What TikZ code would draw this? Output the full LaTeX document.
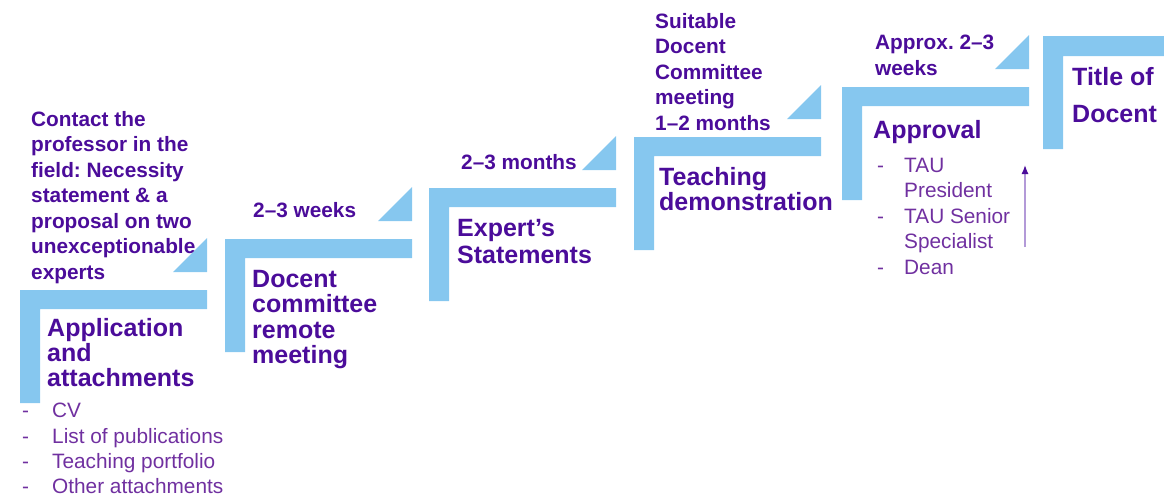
\documentclass[tikz,border=0pt]{standalone}
\usepackage{fontspec}
\setmainfont{Liberation Sans}
\usetikzlibrary{arrows.meta}
\frenchspacing

\definecolor{stepblue}{HTML}{86C7EF}
\definecolor{darkviolet}{HTML}{4B0C9A}
\definecolor{listviolet}{HTML}{7030A0}
\definecolor{lavender}{HTML}{B39AD8}

\tikzset{
  stepbar/.style={fill=stepblue, draw=none},
  steptitle/.style={anchor=north west, inner sep=0pt, align=left, text=darkviolet,
    font=\bfseries\fontsize{25}{25.3}\selectfont},
  stepnote/.style={anchor=north west, inner sep=0pt, align=left, text=darkviolet,
    font=\bfseries\fontsize{20.8}{25.5}\selectfont},
  steplist/.style={anchor=north west, inner sep=0pt, align=left, text=listviolet,
    font=\fontsize{20.8}{25.4}\selectfont},
}
\newcommand{\listdash}[1]{\makebox[#1][l]{-}}

\begin{document}
\begin{tikzpicture}[x=1pt, y=-1pt]
    \useasboundingbox (0,0) rectangle (1164,498);

    % Draw the stairs
    \foreach \sx/\sy in {20/290, 225/239, 429/188, 634/137, 842/87} {
        \fill[stepbar] (\sx,\sy) -- ++(187,0) -- ++(0,19) -- ++(-167,0) -- ++(0,94) -- ++(-20,0) -- cycle;
        \fill[stepbar] (\sx+153,\sy-18) -- (\sx+187,\sy-18) -- (\sx+187,\sy-52) -- cycle;
    }

    % Top step runs off the page
    \fill[stepbar] (1043,36) -- (1164,36) -- (1164,56) -- (1063,56) -- (1063,149) -- (1043,149) -- cycle;

    % Step 1
    \node[stepnote] (contact) at (31,111) {Contact the\\professor in the\\field: Necessity\\statement \& a\\proposal on two\\unexceptionable\\experts};
    \node[steptitle] (application) at (47,318) {Application\\and\\attachments};
    \node[steplist] (attachlist) at (22,403) {\listdash{30pt}CV\\\listdash{30pt}List of publications\\\listdash{30pt}Teaching portfolio\\\listdash{30pt}Other attachments};

    % Step 2
    \node[stepnote] (weeks) at (253,202) {2--3 weeks};
    \node[steptitle] (remote) at (252,270) {Docent\\committee\\remote\\meeting};

    % Step 3
    \node[stepnote] (months) at (461,154) {2--3 months};
    \node[steptitle, font=\bfseries\fontsize{25}{27}\selectfont] (statements) at (457,219) {Expert’s\\Statements};

    % Step 4
    \node[stepnote] (suitable) at (655,13) {Suitable\\Docent\\Committee\\meeting\\1--2 months};
    \node[steptitle] (teaching) at (659,167) {Teaching\\demonstration};

    % Step 5
    \node[stepnote] (approx) at (875,35) {Approx. 2--3\\weeks};
    \node[steptitle] (approval) at (873,120) {Approval};
    \node[steplist] (signers) at (877,158) {\listdash{27pt}TAU\\\hspace*{27pt}President\\\listdash{27pt}TAU Senior\\\hspace*{27pt}Specialist\\\listdash{27pt}Dean};

    % Step 6
    \node[steptitle, font=\bfseries\fontsize{25}{37}\selectfont] (docent) at (1072,67) {Title of\\Docent};

    % Arrow beside the approval list
    \coordinate (arrowfoot) at (1025,247);
    \coordinate (arrowtip) at (1025,165);
    \draw[lavender, line width=1.3pt, -{Latex[length=9pt, width=7pt, color=darkviolet]}] (arrowfoot) -- (arrowtip);
\end{tikzpicture}
\end{document}
